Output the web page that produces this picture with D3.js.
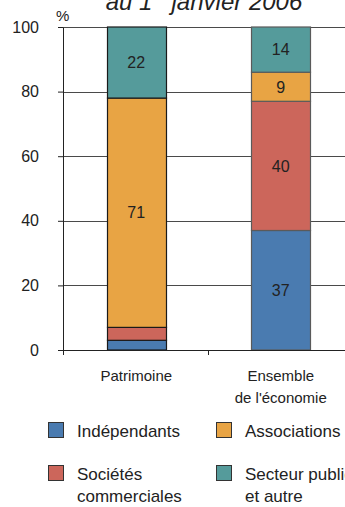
<!DOCTYPE html>
<html><head><meta charset="utf-8">
<script src="https://cdn.jsdelivr.net/npm/d3@7"></script>
<style>
body{margin:0;background:#fff}
svg{display:block}
text{font-family:"Liberation Sans",Arial,Helvetica,sans-serif;fill:#222}
</style>
</head><body>
<svg id="c" width="345" height="507"></svg>
<script>
// ---- data ----
const categories = ["Patrimoine", "Ensemble\nde l'économie"];
const seriesNames = ["Indépendants", "Sociétés commerciales", "Associations", "Secteur public et autre"];
const legendLabels = ["Indépendants", "Sociétés\ncommerciales", "Associations", "Secteur public\net autre"];
const independants = [3, 37];
const societes = [4, 40];
const associations = [71, 9];
const secteurPublic = [22, 14];
const yTicks = [0, 20, 40, 60, 80, 100];
const titleMain = "au 1";
const titleSup = "er";
const titleRest = " janvier 2006";
const yUnit = "%";

// ---- styles ----
const colors = ["#4a7bb0", "#cc665b", "#e8a444", "#559b9b"];
const barStroke = ["#1a1a1a", "#5a5a5a"];

const svg = d3.select("#c");
const W = 345;
const y = d3.scaleLinear().domain([0, 100]).range([350, 27]);
const x = d3.scaleBand().domain(categories).range([63, 352]).padding(0);
const barW = 59;

const rows = categories.map((c, i) => ({
  cat: c,
  [seriesNames[0]]: independants[i],
  [seriesNames[1]]: societes[i],
  [seriesNames[2]]: associations[i],
  [seriesNames[3]]: secteurPublic[i]
}));
const stacked = d3.stack().keys(seriesNames)(rows);

// gridlines
const crisp = v => Math.round(v) + 0.5;
svg.append("g").selectAll("line")
  .data(yTicks.filter(t => t > 0))
  .join("line")
  .attr("x1", x.range()[0]).attr("x2", W)
  .attr("y1", d => crisp(y(d))).attr("y2", d => crisp(y(d)))
  .attr("stroke", "#4a4a4a").attr("stroke-width", 1);

// bars
const cx = c => x(c) + x.bandwidth() / 2 + 1;
const layers = svg.append("g").selectAll("g")
  .data(stacked).join("g")
  .attr("fill", (d, i) => colors[i]);
layers.selectAll("rect")
  .data(d => d.map((v, j) => ({v, j, cat: categories[j]})))
  .join("rect")
  .attr("x", d => Math.round(cx(d.cat) - barW / 2) + 0.5)
  .attr("width", barW)
  .attr("y", d => y(d.v[1]))
  .attr("height", d => y(d.v[0]) - y(d.v[1]))
  .attr("stroke", d => barStroke[d.j])
  .attr("stroke-width", 1.2);

// bar labels
stacked.forEach((s) => {
  s.forEach((v, j) => {
    const val = v[1] - v[0];
    if (val >= 8) {
      svg.append("text")
        .attr("x", cx(categories[j]))
        .attr("y", (y(v[0]) + y(v[1])) / 2)
        .attr("dy", "0.36em")
        .attr("text-anchor", "middle")
        .attr("font-size", 16)
        .text(val);
    }
  });
});

// y axis
const yAxis = svg.append("g")
  .attr("transform", "translate(63,0)")
  .call(d3.axisLeft(y).tickValues(yTicks).tickSize(5).tickSizeOuter(0).tickPadding(19));
yAxis.select(".domain").attr("stroke", "#222");
yAxis.selectAll(".tick line").attr("stroke", "#222");
yAxis.selectAll(".tick text").attr("font-size", 16).attr("fill", "#222")
  .style("font-family", '"Liberation Sans",Arial,sans-serif');

// x axis (boundary ticks)
const xAxis = svg.append("g").attr("transform", "translate(0,350)");
xAxis.append("line").attr("x1", 63).attr("x2", W).attr("y1", 0.5).attr("y2", 0.5)
  .attr("stroke", "#222");
xAxis.selectAll("line.tk")
  .data(categories).join("line").attr("class", "tk")
  .attr("x1", d => crisp(x(d))).attr("x2", d => crisp(x(d)))
  .attr("y1", 0).attr("y2", 5).attr("stroke", "#222");
categories.forEach(c => {
  const t = svg.append("text").attr("text-anchor", "middle").attr("font-size", 15)
    .attr("x", cx(c)).attr("y", 381);
  c.split("\n").forEach((line, k) => {
    t.append("tspan").attr("x", cx(c)).attr("dy", k === 0 ? 0 : 22).text(line);
  });
});

// unit label
svg.append("text").attr("x", 56).attr("y", 21).attr("font-size", 15).text(yUnit);

// title
const title = svg.append("text").attr("x", 204).attr("y", 10)
  .attr("text-anchor", "middle").attr("font-size", 24).attr("font-style", "italic");
title.append("tspan").text(titleMain);
title.append("tspan").attr("font-size", 14).attr("dy", -13).text(titleSup);
title.append("tspan").attr("dy", 13).text(titleRest);

// legend
const legendOrder = [0, 2, 1, 3];
const colX = [48, 216];
const rowY = [422, 465];
legendOrder.forEach((si, k) => {
  const col = k % 2, row = Math.floor(k / 2);
  const g = svg.append("g");
  g.append("rect")
    .attr("x", colX[col] + 0.5).attr("y", rowY[row] + 0.5)
    .attr("width", 15).attr("height", 15)
    .attr("fill", colors[si]).attr("stroke", "#333").attr("stroke-width", 1);
  const t = g.append("text").attr("font-size", 17)
    .attr("x", colX[col] + 29).attr("y", rowY[row] + 15);
  legendLabels[si].split("\n").forEach((line, i) => {
    t.append("tspan").attr("x", colX[col] + 29).attr("dy", i === 0 ? 0 : 22).text(line);
  });
});
</script>
</body></html>
